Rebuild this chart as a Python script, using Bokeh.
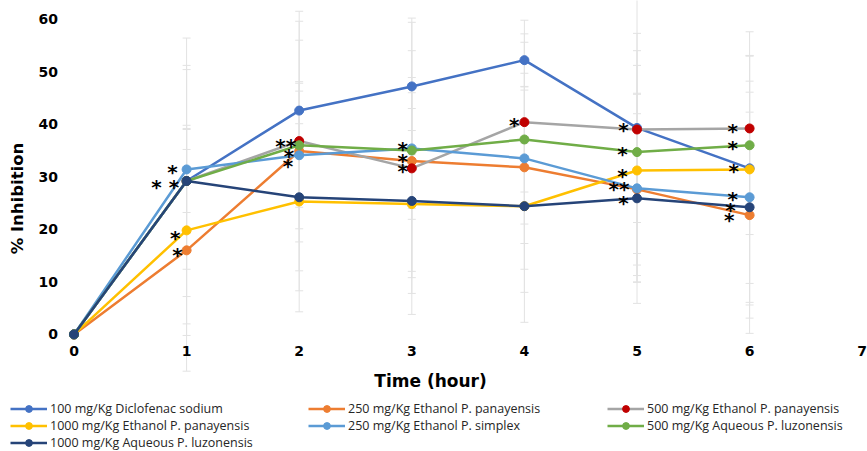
import math
from bokeh.plotting import figure
from bokeh.models import (Range1d, FixedTicker, Legend, LegendItem, Whisker, TeeHead,
                          ColumnDataSource, Label)
from bokeh.core.properties import value
from bokeh.embed import file_html
from bokeh.resources import INLINE

# ---- data ----
hours = [0, 1, 2, 3, 4, 5, 6]

names = [
    "100 mg/Kg Diclofenac sodium",
    "250 mg/Kg Ethanol P. panayensis",
    "500 mg/Kg Ethanol P. panayensis",
    "1000 mg/Kg Ethanol P. panayensis",
    "250 mg/Kg Ethanol P. simplex",
    "500 mg/Kg Aqueous P. luzonensis",
    "1000 mg/Kg Aqueous P. luzonensis",
]

diclofenac      = [0, 29.2, 42.6, 47.2, 52.2, 39.3, 31.6]
eth250_pan      = [0, 16.0, 34.9, 33.0, 31.8, 27.6, 22.7]
eth500_pan      = [0, 29.2, 36.8, 31.6, 40.4, 39.0, 39.2]
eth1000_pan     = [0, 19.8, 25.3, 24.8, 24.4, 31.2, 31.4]
eth250_simplex  = [0, 31.4, 34.1, 35.4, 33.5, 27.8, 26.1]
aq500_luz       = [0, 29.2, 36.0, 35.0, 37.1, 34.7, 36.0]
aq1000_luz      = [0, 29.2, 26.1, 25.4, 24.4, 25.9, 24.2]

err_diclofenac     = [0, 27.2, 17.0, 13.0, 5.0, 18.0, 26.0]
err_eth250_pan     = [0, 23.0, 26.6, 21.0, 23.8, 14.4, 19.6]
err_eth500_pan     = [0, 10.0, 19.2, 27.8, 19.4, 29.0, 13.8]
err_eth1000_pan    = [0, 20.0, 21.0, 14.0, 12.0, 20.0, 21.7]
err_eth250_simplex = [0, 19.0, 14.0, 13.5, 16.2, 17.9, 20.0]
err_aq500_luz      = [0, 22.0, 11.8, 11.0, 10.0, 19.3, 17.0]
err_aq1000_luz     = [0, 6.0, 14.0, 17.6, 22.1, 20.0, 24.0]

# significance asterisks (x in hours, y in % inhibition, label)
ast_x = [0.875, 0.81, 0.90, 0.92, 1.88, 1.91, 1.90, 2.92, 2.92, 2.92, 3.91,
         4.88, 4.87, 4.87, 4.84, 4.88, 5.85, 5.85, 5.86, 5.85, 5.83, 5.82]
ast_y = [31.2, 28.5, 18.8, 15.4, 36.3, 34.4, 32.5, 35.6, 33.3, 31.4, 40.3,
         39.2, 34.8, 30.6, 28.0, 25.3, 39.0, 35.8, 31.4, 26.2, 24.0, 22.2]
ast_t = ["*", "* *", "*", "*", "**", "*", "*", "*", "*", "*", "*",
         "*", "*", "*", "**", "*", "*", "*", "*", "*", "*", "*"]

y_ticks = [0, 10, 20, 30, 40, 50, 60]
x_ticks = [0, 1, 2, 3, 4, 5, 6, 7]

x_title = "Time (hour)"
y_title = "% Inhibition"

series = [diclofenac, eth250_pan, eth500_pan, eth1000_pan, eth250_simplex, aq500_luz, aq1000_luz]
errors = [err_diclofenac, err_eth250_pan, err_eth500_pan, err_eth1000_pan,
          err_eth250_simplex, err_aq500_luz, err_aq1000_luz]
line_colors = ["#4472C4", "#ED7D31", "#A5A5A5", "#FFC000", "#5B9BD5", "#70AD47", "#264478"]
marker_colors = ["#4472C4", "#ED7D31", "#C00000", "#FFC000", "#5B9BD5", "#70AD47", "#264478"]

# ---- figure: frame spans the whole canvas, axes pinned at the data origin ----
W, H = 867, 451
X0_PX, X_SCALE = 73.5, 112.6      # pixel of x=0, pixels per hour
Y0_PX, Y_SCALE = 333.9, 5.254     # pixel (from top) of y=0, pixels per % unit
p = figure(width=W, height=H, output_backend="svg", toolbar_location=None,
           x_range=Range1d(-X0_PX / X_SCALE, (W - X0_PX) / X_SCALE),
           y_range=Range1d(-(H - Y0_PX) / Y_SCALE, Y0_PX / Y_SCALE),
           min_border_left=0, min_border_right=0, min_border_top=0, min_border_bottom=0)
p.outline_line_color = None
p.xgrid.visible = False
p.ygrid.visible = False
p.border_fill_color = "white"

for ax, ticks, standoff in ((p.xaxis[0], x_ticks, 12), (p.yaxis[0], y_ticks, 16)):
    ax.ticker = FixedTicker(ticks=ticks)
    ax.fixed_location = 0
    ax.axis_line_color = None
    ax.major_tick_line_color = None
    ax.minor_tick_line_color = None
    ax.major_tick_out = 0
    ax.major_tick_in = 0
    ax.major_label_text_font = "DejaVu Sans"
    ax.major_label_text_font_style = "bold"
    ax.major_label_text_font_size = "14px"
    ax.major_label_text_color = "#000000"
    ax.major_label_standoff = standoff

# error bars
eb_color = "#E2E2E2"
for vals, errs in zip(series, errors):
    xs = [h for h, e in zip(hours, errs) if e > 0]
    up = [v + e for v, e in zip(vals, errs) if e > 0]
    lo = [v - e for v, e in zip(vals, errs) if e > 0]
    src = ColumnDataSource(dict(x=xs, upper=up, lower=lo))
    w = Whisker(source=src, base="x", upper="upper", lower="lower", dimension="height",
                line_color=eb_color, line_width=1, level="underlay",
                upper_head=TeeHead(size=8, line_color=eb_color, line_width=1),
                lower_head=TeeHead(size=8, line_color=eb_color, line_width=1))
    p.add_layout(w)

renderers = []
for vals, lc, mc in zip(series, line_colors, marker_colors):
    l = p.line(hours, vals, line_color=lc, line_width=2.5)
    s = p.scatter(hours, vals, size=9, fill_color=mc, line_color=mc)
    renderers.append([l, s])

# asterisks
p.text(x=ast_x, y=ast_y, text=ast_t, text_font=value("DejaVu Sans"), text_font_style="bold",
       text_font_size="20px", text_color="#000000", text_align="center",
       text_baseline="middle", y_offset=2)

# axis titles
p.add_layout(Label(x=(430 - X0_PX) / X_SCALE, y=(Y0_PX - 380) / Y_SCALE, text=x_title,
                   text_font="DejaVu Sans", text_font_style="bold", text_font_size="17px",
                   text_color="#000000", text_align="center", text_baseline="middle"))
p.add_layout(Label(x=(17 - X0_PX) / X_SCALE, y=(Y0_PX - 198) / Y_SCALE, text=y_title,
                   text_font="DejaVu Sans", text_font_style="bold", text_font_size="16.5px",
                   text_color="#000000", text_align="center", text_baseline="middle",
                   angle=math.pi / 2))

# legend: three columns
cols = [([0, 3, 6], (10, 0)), ([1, 4], (308, 17)), ([2, 5], (607, 17))]
for idxs, loc in cols:
    items = [LegendItem(label=names[i], renderers=renderers[i]) for i in idxs]
    lg = Legend(items=items, location=loc, orientation="vertical",
                glyph_width=37, glyph_height=17, label_height=17, spacing=0,
                label_standoff=3, padding=0, margin=0,
                label_text_font="Open Sans", label_text_font_size="12.5px",
                label_text_color="#262626",
                border_line_color=None, background_fill_alpha=0)
    p.add_layout(lg, "center")

open("out.html", "w").write(file_html(p, INLINE))
